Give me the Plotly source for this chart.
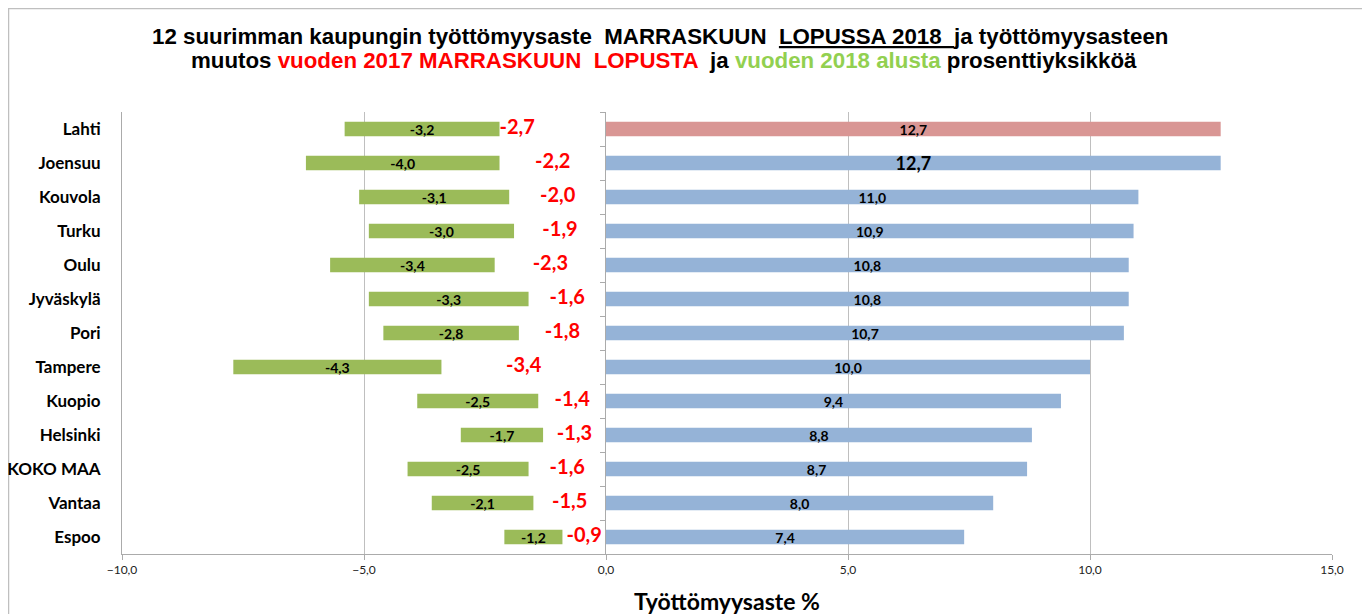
import plotly.graph_objects as go

# ---- data ----
cities = ["Lahti", "Joensuu", "Kouvola", "Turku", "Oulu", "Jyväskylä", "Pori",
          "Tampere", "Kuopio", "Helsinki", "KOKO MAA", "Vantaa", "Espoo"]
rate_2018 = [12.7, 12.7, 11.0, 10.9, 10.8, 10.8, 10.7, 10.0, 9.4, 8.8, 8.7, 8.0, 7.4]
change_from_2017 = [-2.7, -2.2, -2.0, -1.9, -2.3, -1.6, -1.8, -3.4, -1.4, -1.3, -1.6, -1.5, -0.9]
change_from_2018_start = [-3.2, -4.0, -3.1, -3.0, -3.4, -3.3, -2.8, -4.3, -2.5, -1.7, -2.5, -2.1, -1.2]
green_bar_start = [-2.2, -2.2, -2.0, -1.9, -2.3, -1.6, -1.8, -3.4, -1.4, -1.3, -1.6, -1.5, -0.9]
x_ticks_left = [-10, -5, 0]
x_ticks_right = [5, 10, 15]


def fi(v):
    return f"{v:.1f}".replace(".", ",")


GREEN = "#9BBB59"
BLUE = "#95B3D7"
PINK = "#D99694"
RED = "#FF0000"
LINE = "#ABABAB"
GRID = "#BFBFBF"
CAL = "Lato, Carlito, Calibri, sans-serif"
ARIAL = "Liberation Sans, Arial, sans-serif"
NB = "\u00a0"

fig = go.Figure()

# green floating bars (change from start of 2018)
fig.add_trace(go.Bar(
    y=cities, x=change_from_2018_start, base=green_bar_start, orientation="h",
    marker=dict(color=GREEN, line=dict(width=0)), width=0.42,
    text=[fi(v) for v in change_from_2018_start], textposition="inside",
    insidetextanchor="middle", constraintext="none",
    textfont=dict(family=CAL, size=14, color="black", weight="bold"),
    xaxis="x", yaxis="y", hoverinfo="skip", showlegend=False,
))

# red labels (change from end of Nov 2017), centred over the gap to zero
red_x = [s / 2 for s in green_bar_start]
red_pos = ["middle center"] * len(cities)
red_x[0] = green_bar_start[0]
red_pos[0] = "middle right"
fig.add_trace(go.Scatter(
    y=cities, x=red_x, mode="text", text=[fi(v) for v in change_from_2017],
    textposition=red_pos,
    textfont=dict(family=CAL, size=20, color=RED, weight="bold"),
    xaxis="x", yaxis="y", hoverinfo="skip", showlegend=False, cliponaxis=False,
))

# blue bars (unemployment rate end of Nov 2018)
colors = [PINK] + [BLUE] * (len(cities) - 1)
sizes = [14, 18] + [14] * (len(cities) - 2)
fig.add_trace(go.Bar(
    y=cities, x=rate_2018, orientation="h",
    marker=dict(color=colors, line=dict(width=0)), width=0.42,
    text=[fi(v) for v in rate_2018], textposition="inside",
    insidetextanchor="middle", constraintext="none",
    textfont=dict(family=CAL, size=sizes, color="black", weight="bold"),
    xaxis="x2", yaxis="y2", hoverinfo="skip", showlegend=False,
))

title1 = (f"12 suurimman kaupungin työttömyysaste {NB}MARRASKUUN {NB}"
          f"<u>LOPUSSA 2018 {NB}</u>ja työttömyysasteen")
title2 = ("muutos <span style='color:#FF0000'>vuoden 2017 MARRASKUUN "
          f"{NB}LOPUSTA</span> {NB}ja "
          "<span style='color:#92D050'>vuoden 2018 alusta</span> prosenttiyksikköä")

title_font = dict(family=ARIAL, size=22.3, color="black", weight="bold")
n = len(cities)

fig.update_layout(
    width=1370, height=614,
    margin=dict(l=114, r=46, t=104, b=68, autoexpand=False),
    paper_bgcolor="white", plot_bgcolor="white",
    separators=", ",
    barmode="overlay",
    showlegend=False,
    xaxis=dict(domain=[0, 0.4], range=[-10, 0], anchor="y", automargin=False,
               tickvals=x_ticks_left, tickformat=".1f",
               showgrid=True, gridcolor=GRID, gridwidth=1, zeroline=False,
               showline=True, linecolor=LINE, linewidth=1,
               ticks="outside", ticklen=5, tickcolor=LINE,
               tickfont=dict(family=CAL, size=12, color="#222222")),
    xaxis2=dict(domain=[0.4, 1], range=[0, 15], anchor="y2", automargin=False,
                tickvals=x_ticks_right, tickformat=".1f",
                showgrid=True, gridcolor=GRID, gridwidth=1, zeroline=False,
                showline=True, linecolor=LINE, linewidth=1,
                ticks="outside", ticklen=5, tickcolor=LINE,
                tickfont=dict(family=CAL, size=12, color="#222222")),
    yaxis=dict(domain=[0, 1], anchor="x", type="category", automargin=False,
               categoryorder="array", categoryarray=cities,
               range=[n - 0.5, -0.5],
               showline=True, linecolor=LINE, linewidth=1, showgrid=False,
               ticks="", ticklabelstandoff=17,
               tickfont=dict(family=CAL, size=17, color="black", weight="bold")),
    yaxis2=dict(domain=[0, 1], anchor="x2", matches="y", type="category",
                automargin=False,
                categoryorder="array", categoryarray=cities,
                showline=True, linecolor=LINE, linewidth=1, showgrid=False,
                ticks="outside", ticklen=5, tickcolor=LINE, tickson="boundaries",
                showticklabels=False),
    annotations=[
        dict(text=title1, xref="paper", yref="paper", x=0.4446, y=1.0,
             yshift=76, xanchor="center", yanchor="middle", showarrow=False,
             font=title_font),
        dict(text=title2, xref="paper", yref="paper", x=0.4483, y=1.0,
             yshift=52, xanchor="center", yanchor="middle", showarrow=False,
             font=title_font),
        dict(text="Työttömyysaste %", xref="paper", yref="paper", x=0.5,
             y=0, yshift=-47, xanchor="center", yanchor="middle", showarrow=False,
             font=dict(family=CAL, size=23, color="black", weight="bold")),
    ],
    shapes=[dict(type="rect", xref="paper", yref="paper",
                 x0=-0.0938, x1=1.0273, y0=-0.2, y1=1.2342,
                 line=dict(color="#BFBFBF", width=1.5), fillcolor="rgba(0,0,0,0)",
                 layer="below")],
)

fig.write_html("out.html")
